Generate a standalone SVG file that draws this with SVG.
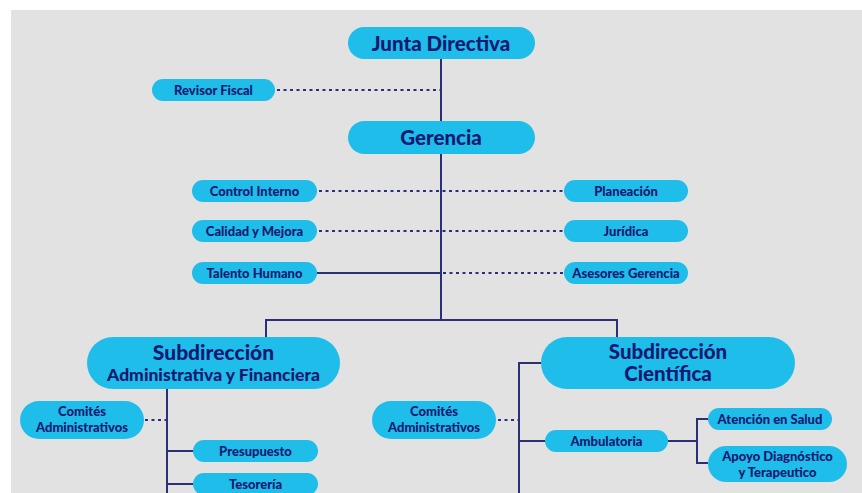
<svg xmlns="http://www.w3.org/2000/svg" width="862" height="493" viewBox="0 0 862 493">
<style>
.n{fill:#1fbde9;}
.t{font-family:Lato,"Open Sans","Liberation Sans",sans-serif;font-weight:900;fill:#101a72;text-anchor:middle;}
.s{font-size:13px;}
.b{font-size:20.5px;}
.l{stroke:#2b2f78;stroke-width:2;fill:none;}
.d{stroke:#2b2f78;stroke-width:2;fill:none;stroke-dasharray:3 3.5;}
</style>
<rect x="0" y="0" width="862" height="493" fill="#ffffff"/>
<rect x="11" y="10" width="851" height="483" fill="#e2e2e2"/>
<g id="connectors">
<path class="l" d="M441 59V320M266 337V320H617V337"/>
<path class="d" d="M277 90H441"/>
<path class="d" d="M319 191H563M319 231H563M443 273H563"/>
<path class="l" d="M317 273H441"/>
<path class="l" d="M167 389V493M167 451H193M167 484H193"/>
<path class="d" d="M145 420H167"/>
<path class="l" d="M541 363H519V493M519 441H545M668 441H697M708 419H697V463H708"/>
<path class="d" d="M498 420H519"/>
</g>
<g id="junta"><rect class="n" x="348" y="27" width="187" height="32" rx="16"/><text class="t b" x="441" y="50.5">Junta Directiva</text></g>
<g id="revisor"><rect class="n" x="152" y="79" width="123" height="22" rx="11"/><text class="t s" x="213.5" y="95">Revisor Fiscal</text></g>
<g id="gerencia"><rect class="n" x="348" y="121" width="187" height="33" rx="16.5"/><text class="t b" x="441" y="145">Gerencia</text></g>
<g id="control"><rect class="n" x="192" y="180" width="125" height="22" rx="11"/><text class="t s" x="254.5" y="196">Control Interno</text></g>
<g id="planeacion"><rect class="n" x="564" y="180" width="124" height="22" rx="11"/><text class="t s" x="626" y="196">Planeación</text></g>
<g id="calidad"><rect class="n" x="192" y="220" width="125" height="22" rx="11"/><text class="t s" x="254.5" y="236">Calidad y Mejora</text></g>
<g id="juridica"><rect class="n" x="564" y="220" width="124" height="22" rx="11"/><text class="t s" x="626" y="236">Jurídica</text></g>
<g id="talento"><rect class="n" x="192" y="262" width="125" height="22" rx="11"/><text class="t s" x="254.5" y="278">Talento Humano</text></g>
<g id="asesores"><rect class="n" x="564" y="262" width="124" height="22" rx="11"/><text class="t s" x="626" y="278">Asesores Gerencia</text></g>
<g id="subadm"><rect class="n" x="87" y="337" width="253" height="52" rx="26"/><text class="t" x="213.5" y="360" font-size="21">Subdirección</text><text class="t" x="213.5" y="381" font-size="17.5">Administrativa y Financiera</text></g>
<g id="subcien"><rect class="n" x="541" y="337" width="254" height="52" rx="26"/><text class="t" x="668" y="359" font-size="20.5">Subdirección</text><text class="t" x="668" y="381" font-size="20.5">Científica</text></g>
<g id="comites1"><rect class="n" x="20" y="401" width="124" height="38" rx="19"/><text class="t s" x="82" y="416">Comités</text><text class="t s" x="82" y="432">Administrativos</text></g>
<g id="presupuesto"><rect class="n" x="193" y="440" width="125" height="22" rx="11"/><text class="t s" x="255.5" y="456">Presupuesto</text></g>
<g id="tesoreria"><rect class="n" x="193" y="473" width="125" height="22" rx="11"/><text class="t s" x="255.5" y="489">Tesorería</text></g>
<g id="comites2"><rect class="n" x="372" y="401" width="124" height="38" rx="19"/><text class="t s" x="434" y="416">Comités</text><text class="t s" x="434" y="432">Administrativos</text></g>
<g id="ambulatoria"><rect class="n" x="545" y="430" width="123" height="22" rx="11"/><text class="t s" x="606.5" y="446">Ambulatoria</text></g>
<g id="atencion"><rect class="n" x="708" y="408" width="124" height="22" rx="11"/><text class="t s" x="770" y="424">Atención en Salud</text></g>
<g id="apoyo"><rect class="n" x="708" y="446" width="139" height="36" rx="18"/><text class="t s" x="777.5" y="461">Apoyo Diagnóstico</text><text class="t s" x="777.5" y="476.5">y Terapeutico</text></g>
</svg>
